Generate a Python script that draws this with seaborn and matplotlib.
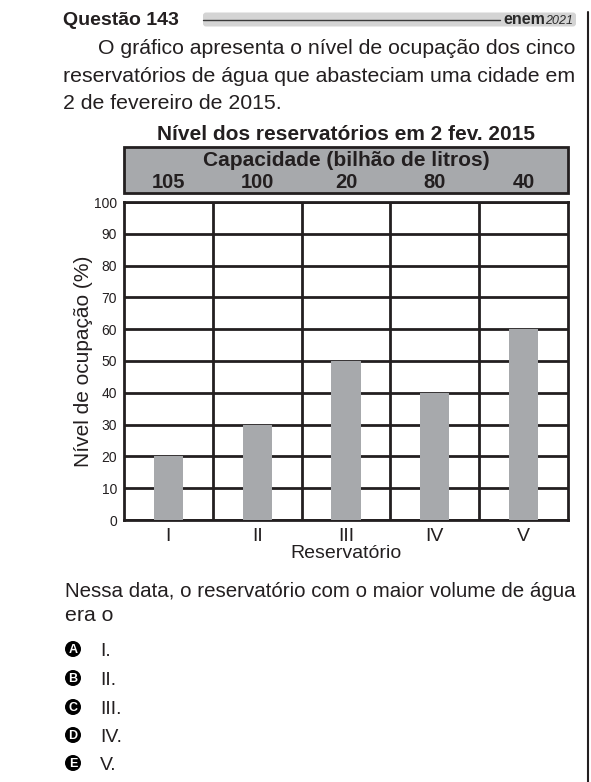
import matplotlib
matplotlib.use('Agg')
import matplotlib.pyplot as plt
import matplotlib.transforms as mtransforms
from matplotlib.patches import Rectangle, FancyBboxPatch, Circle
from matplotlib.lines import Line2D
import seaborn as sns
import pandas as pd

# ---------------- data ----------------
reservatorios = ['I', 'II', 'III', 'IV', 'V']
nivel_ocupacao = [20, 30, 50, 40, 60]
capacidade = ['105', '100', '20', '80', '40']
y_ticks = [0, 10, 20, 30, 40, 50, 60, 70, 80, 90, 100]

titulo_questao = 'Questão 143'
enunciado = [
    'O gráfico apresenta o nível de ocupação dos cinco',
    'reservatórios de água que abasteciam uma cidade em',
    '2 de fevereiro de 2015.',
]
titulo_grafico = 'Nível dos reservatórios em 2 fev. 2015'
titulo_capacidade = 'Capacidade (bilhão de litros)'
rotulo_y = 'Nível de ocupação (%)'
rotulo_x = 'Reservatório'
pergunta = [
    'Nessa data, o reservatório com o maior volume de água',
    'era o',
]
letras = ['A', 'B', 'C', 'D', 'E']
alternativas = ['I.', 'II.', 'III.', 'IV.', 'V.']

# ---------------- style ----------------
W, H = 591, 782
TXT = '#231f20'
BAR = '#a7a9ac'
sns.set_theme(style='white')
plt.rcParams['font.family'] = ['Liberation Sans', 'DejaVu Sans']

fig = plt.figure(figsize=(W / 100, H / 100), dpi=100)
# pixel coordinates with origin at top-left
T = mtransforms.Affine2D().scale(1, -1).translate(0, H) + mtransforms.IdentityTransform()
renderer = fig.canvas.get_renderer()


def ftext(x, y, s, **kw):
    kw.setdefault('color', TXT)
    kw.setdefault('va', 'baseline')
    return fig.text(x, y, s, transform=T, **kw)


def fitted(line, x0, x1, y, size, just=True):
    """Draw a line of text; justified lines are scaled to fill x0..x1."""
    t = ftext(x0, y, line, fontsize=size)
    if just:
        w = t.get_window_extent(renderer).width
        t.set_fontsize(size * (x1 - x0) / w)
    return t


# ---------------- header ----------------
ftext(63, 25, titulo_questao, fontsize=14, fontweight='bold')
band = FancyBboxPatch((203, 12.5), 373, 14, boxstyle='round,pad=0,rounding_size=3',
                      transform=T, fc='#d4d4d4', ec='none')
fig.patches.append(band)
fig.lines.append(Line2D([203, 500], [19.5, 19.5], transform=T, color='#3a3a3a', lw=1))
ftext(503, 24, 'enem', fontsize=11.5, fontweight='bold', color='#2a2a2a')
ftext(545, 24, '2021', fontsize=9, fontstyle='italic', color='#2a2a2a')
fig.lines.append(Line2D([587.5, 587.5], [12, H], transform=T, color=TXT, lw=1.5))

# ---------------- statement ----------------
body = 15
fitted(enunciado[0], 98, 577, 54, body)
fitted(enunciado[1], 63, 577, 82, body)
fitted(enunciado[2], 63, 577, 109, body * 1.02, just=False)

# ---------------- chart ----------------
ax = fig.add_axes([124 / W, 1 - 520 / H, (568 - 124) / W, (520 - 202) / H])
df = pd.DataFrame({'Reservatório': reservatorios, 'Nível': nivel_ocupacao})
sns.barplot(data=df, x='Reservatório', y='Nível', color=BAR, saturation=1,
            width=0.33, ax=ax, zorder=3, linewidth=0, edgecolor='none')
ax.set_xlim(-0.5, len(reservatorios) - 0.5)
ax.set_ylim(0, 100)
ax.set_yticks(y_ticks)
ax.set_yticklabels([str(v) for v in y_ticks])
ax.set_xticks(range(len(reservatorios)))
ax.set_xticklabels(reservatorios)
ax.set_xticks([i + 0.5 for i in range(len(reservatorios) - 1)], minor=True)
ax.set_axisbelow(True)
ax.yaxis.grid(True, which='major', color=TXT, lw=2)
ax.xaxis.grid(True, which='minor', color=TXT, lw=2)
ax.xaxis.grid(False, which='major')
for sp in ax.spines.values():
    sp.set_visible(True)
    sp.set_color(TXT)
    sp.set_linewidth(2)
ax.tick_params(axis='y', which='both', length=0, pad=5, labelsize=10, labelcolor=TXT)
ax.tick_params(axis='x', which='both', length=0, pad=6, labelsize=14, labelcolor=TXT)
ax.set_xlabel(rotulo_x, fontsize=14, color=TXT)
ax.set_ylabel(rotulo_y, fontsize=15, color=TXT)
ax.xaxis.set_label_coords(0.5, -0.079)
ax.yaxis.set_label_coords(-0.07, 0.5)

# capacity box above the chart
box = Rectangle((124, 147), 444, 46, transform=T, fc=BAR, ec=TXT, lw=2)
fig.patches.append(box)
ftext(346, 140, titulo_grafico, fontsize=15, fontweight='bold', ha='center')
ftext(346, 166, titulo_capacidade, fontsize=15, fontweight='bold', ha='center')
bt = mtransforms.blended_transform_factory(ax.transData, T)
for i, c in enumerate(capacidade):
    fig.text(i, 188.5, c, transform=bt, fontsize=14.5, fontweight='bold',
             ha='center', va='baseline', color=TXT)

# ---------------- question ----------------
fitted(pergunta[0], 65, 577, 597, body)
fitted(pergunta[1], 65, 577, 621, body * 1.02, just=False)
ys = [649, 678, 707, 735, 763]
for L, alt, cy in zip(letras, alternativas, ys):
    fig.patches.append(Circle((73, cy), 8, transform=T, fc='black', ec='none'))
    ftext(73, cy + 4.3, L, fontsize=9, fontweight='bold', color='white', ha='center')
    ftext(100, cy + 7, alt, fontsize=14, color=TXT)

fig.savefig('out.png', dpi=100)
